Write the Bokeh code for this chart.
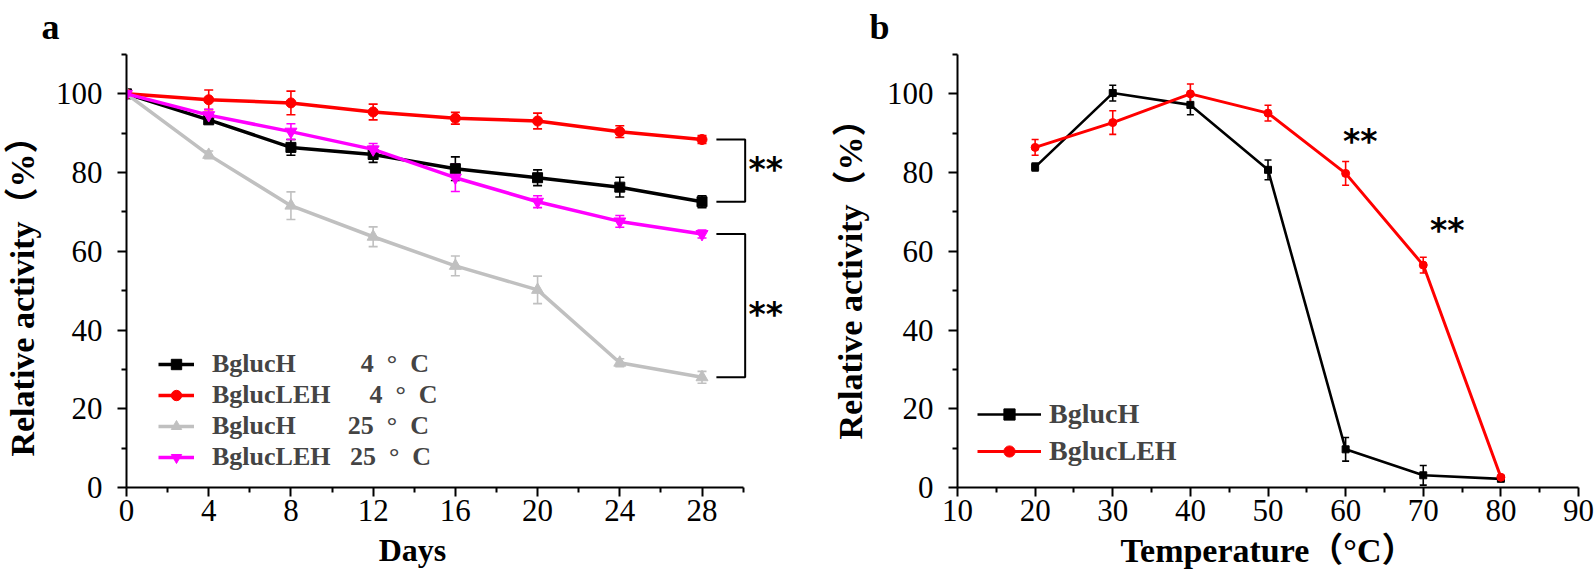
from bokeh.plotting import figure
from bokeh.layouts import row
from bokeh.models import (ColumnDataSource, Whisker, TeeHead, FixedTicker, Legend,
                          LegendItem, Range1d)
from bokeh.embed import file_html
from bokeh.resources import INLINE
from bokeh.core.properties import value

# ---------------- data: panel a (storage stability) ----------------
days = [0, 4, 8, 12, 16, 20, 24, 28]
days_minor = [2, 6, 10, 14, 18, 22, 26, 30]
h4 = [100, 93.4, 86.4, 84.6, 81.0, 78.7, 76.3, 72.6]
h4_err = [1, 1, 2, 2, 3, 2, 2.5, 1.5]
leh4 = [100, 98.5, 97.7, 95.4, 93.8, 93.1, 90.4, 88.4]
leh4_err = [1, 2.5, 3, 2, 1.5, 2, 1.5, 1]
h25 = [100, 84.5, 71.6, 63.7, 56.3, 50.2, 31.7, 28.0]
h25_err = [1, 1, 3.5, 2.5, 2.5, 3.5, 1, 1.5]
leh25 = [100, 94.6, 90.4, 85.9, 78.7, 72.6, 67.6, 64.4]
leh25_err = [1, 1.5, 2, 1.5, 3.5, 1.5, 1.5, 1]

# ---------------- data: panel b (temperature) ----------------
temps = [20, 30, 40, 50, 60, 70, 80]
temp_ticks = [10, 20, 30, 40, 50, 60, 70, 80, 90]
temp_minor = [15, 25, 35, 45, 55, 65, 75, 85]
h_t = [81.4, 100.2, 97.2, 80.7, 9.7, 3.1, 2.2]
h_t_err = [1, 2, 2.5, 2.5, 3, 2.5, 0.5]
leh_t = [86.4, 92.7, 100, 95.1, 79.8, 56.5, 2.6]
leh_t_err = [2, 3, 2.5, 2, 3, 2, 0.5]

y_ticks = [0, 20, 40, 60, 80, 100]
y_minor = [10, 30, 50, 70, 90, 110]

SERIF = "Liberation Serif"
LABEL_FONT = "Liberation Serif, Noto Sans CJK SC"
NB = "\u00a0"


def style_axes(p, ylabel_standoff, xlabel_size):
    p.xgrid.visible = False
    p.ygrid.visible = False
    p.outline_line_color = None
    p.background_fill_color = "white"
    p.border_fill_color = "white"
    for ax in (p.xaxis[0], p.yaxis[0]):
        ax.axis_line_width = 2
        ax.axis_line_color = "black"
        ax.major_tick_line_width = 2
        ax.minor_tick_line_width = 2
        ax.major_tick_out = 9
        ax.major_tick_in = 0
        ax.minor_tick_out = 5
        ax.minor_tick_in = 0
        ax.major_label_text_font = SERIF
        ax.major_label_text_font_size = "31px"
        ax.major_label_text_color = "black"
        ax.axis_label_text_font = LABEL_FONT
        ax.axis_label_text_font_style = "bold"
        ax.axis_label_text_color = "black"
    p.xaxis.axis_label_text_font_size = xlabel_size
    p.yaxis.axis_label_text_font_size = "34px"
    p.yaxis.ticker = FixedTicker(ticks=y_ticks, minor_ticks=y_minor)
    p.yaxis.major_label_standoff = 15
    p.yaxis.axis_label_standoff = ylabel_standoff
    p.xaxis.major_label_standoff = 3
    p.xaxis.axis_label_standoff = 8


def series(p, x, y, err, color, marker, size, lw, head=9):
    src = ColumnDataSource(dict(x=x, y=y,
                                lo=[a - b for a, b in zip(y, err)],
                                hi=[a + b for a, b in zip(y, err)]))
    p.add_layout(Whisker(source=src, base="x", upper="hi", lower="lo",
                         line_color=color, line_width=1.6,
                         upper_head=TeeHead(size=head, line_color=color, line_width=1.6),
                         lower_head=TeeHead(size=head, line_color=color, line_width=1.6)))
    r1 = p.line("x", "y", source=src, line_color=color, line_width=lw)
    r2 = p.scatter("x", "y", source=src, marker=marker, size=size,
                   fill_color=color, line_color=color)
    return [r1, r2]


def stars(p, x, y):
    p.text(x=x, y=y, text=["**"] * len(x), text_font=value("DejaVu Sans"),
           text_font_style="bold", text_font_size="33px", text_color="black",
           text_align="center", text_baseline="middle")


def panel_letter(p, letter, offset):
    p.title.text = letter
    p.title.align = "left"
    p.title.offset = offset
    p.title.vertical_align = "top"
    p.title.standoff = 12
    p.title.text_font = SERIF
    p.title.text_font_style = "bold"
    p.title.text_font_size = "36px"
    p.title.text_color = "black"


# ====================== panel a ======================
p1 = figure(width=800, height=582, x_range=Range1d(0, 32.5), y_range=Range1d(0, 110),
            output_backend="svg", toolbar_location=None,
            min_border_left=121, min_border_right=6, min_border_top=53, min_border_bottom=95)
style_axes(p1, 12, "32px")
p1.xaxis.ticker = FixedTicker(ticks=days, minor_ticks=days_minor)
p1.xaxis.bounds = (0, 30)
p1.xaxis.axis_label = "Days" + NB * 12
p1.yaxis.axis_label = "Relative activity（%）" + NB * 4

ra = series(p1, days, h4, h4_err, "black", "square", 10, 3.5)
rb = series(p1, days, leh4, leh4_err, "#ff0000", "circle", 10, 3.5)
rc = series(p1, days, h25, h25_err, "#c0c0c0", "triangle", 12, 3.5)
rd = series(p1, days, leh25, leh25_err, "#ff00ff", "inverted_triangle", 12, 3.5)

deg4 = "4" + NB * 2 + "°" + NB * 2 + "C"
deg25 = "25" + NB * 2 + "°" + NB * 2 + "C"
leg1 = Legend(items=[
    LegendItem(label="BglucH" + NB * 10 + deg4, renderers=ra),
    LegendItem(label="BglucLEH" + NB * 6 + deg4, renderers=rb),
    LegendItem(label="BglucH" + NB * 8 + deg25, renderers=rc),
    LegendItem(label="BglucLEH" + NB * 3 + deg25, renderers=rd),
], location=(32, 15), border_line_color=None, background_fill_alpha=0,
    padding=0, margin=0, spacing=1, glyph_width=36, glyph_height=26,
    label_height=26, label_standoff=18, label_text_font=SERIF,
    label_text_font_style="bold", label_text_font_size="26px")
p1.add_layout(leg1)

# significance brackets between the day-28 values
bx0, bx1 = 28.7, 30.1
for top, bot in ((leh4[-1], h4[-1]), (leh25[-1], h25[-1])):
    p1.line([bx0, bx1, bx1, bx0], [top, top, bot, bot], line_color="black", line_width=2)
stars(p1, [31.1, 31.1], [80.7, 44.0])

panel_letter(p1, "a", -85)

# ====================== panel b ======================
p2 = figure(width=795, height=582, x_range=Range1d(10, 90), y_range=Range1d(0, 110),
            output_backend="svg", toolbar_location=None,
            min_border_left=157, min_border_right=17, min_border_top=53, min_border_bottom=95)
style_axes(p2, 15, "34px")
p2.xaxis.ticker = FixedTicker(ticks=temp_ticks, minor_ticks=temp_minor)
p2.xaxis.axis_label = "Temperature（°C）"
p2.yaxis.axis_label = "Relative activity（%）"

re = series(p2, temps, h_t, h_t_err, "black", "square", 7, 2.6, head=7)
rf = series(p2, temps, leh_t, leh_t_err, "#ff0000", "circle", 8, 3, head=7)

leg2 = Legend(items=[
    LegendItem(label="BglucH", renderers=re),
    LegendItem(label="BglucLEH", renderers=rf),
], location=(20, 20), border_line_color=None, background_fill_alpha=0,
    padding=0, margin=0, spacing=5, glyph_width=64, glyph_height=28,
    label_height=28, label_standoff=8, label_text_font=SERIF,
    label_text_font_style="bold", label_text_font_size="28px")
p2.add_layout(leg2)

stars(p2, [61.9, 73.1], [88.0, 65.2])

panel_letter(p2, "b", -88)

layout = row(p1, p2)
open("out.html", "w").write(file_html(layout, INLINE))
